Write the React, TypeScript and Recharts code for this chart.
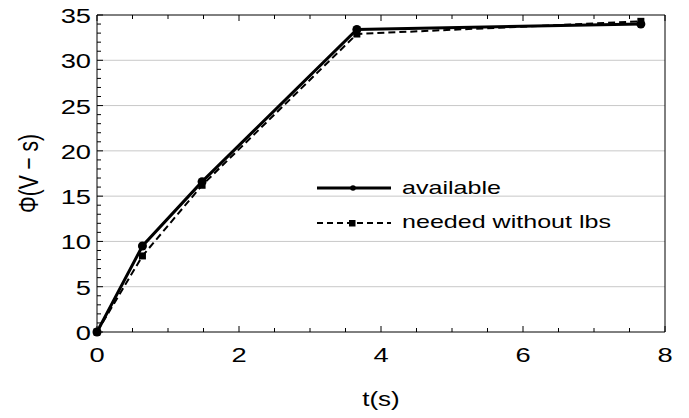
import React from "react";
import { ComposedChart, Line, XAxis, YAxis, ReferenceLine, Label } from "recharts";

const times = [0, 0.64, 1.48, 3.66, 7.66];
const available = [0, 9.5, 16.6, 33.4, 34.0];
const needed = [0, 8.4, 16.2, 32.9, 34.3];
const seriesNames = ["available", "needed without lbs"];
const xTicks = [0, 0.5, 1, 1.5, 2, 2.5, 3, 3.5, 4, 4.5, 5, 5.5, 6, 6.5, 7, 7.5, 8];
const yTicks = [
  0, 1, 2, 3, 4, 5, 6, 7, 8, 9, 10, 11, 12, 13, 14, 15, 16, 17, 18, 19, 20, 21, 22, 23, 24, 25, 26, 27, 28,
  29, 30, 31, 32, 33, 34, 35,
];
const gridValues = [5, 10, 15, 20, 25, 30];

const data = times.map((t, i) => ({ t, available: available[i], needed: needed[i] }));

const font = "'Liberation Sans', Arial, sans-serif";

const BottomTick = ({ x, y, payload }: any) => {
  const major = payload.value % 2 === 0;
  return (
    <g>
      <line x1={x} x2={x} y1={y} y2={y - (major ? 6 : 4)} stroke="#000" />
      {major && (
        <text transform={`translate(${x},${y + 30}) scale(1.3,1)`} textAnchor="middle" fontSize={21} fontFamily={font} fill="#000">
          {payload.value}
        </text>
      )}
    </g>
  );
};

const TopTick = ({ x, y, payload }: any) => {
  const major = payload.value % 2 === 0;
  return <line x1={x} x2={x} y1={y} y2={y + (major ? 6 : 4)} stroke="#000" />;
};

const LeftTick = ({ x, y, payload }: any) => {
  const major = payload.value % 5 === 0;
  return (
    <g>
      <line x1={x} x2={x + (major ? 6 : 4)} y1={y} y2={y} stroke="#000" />
      {major && (
        <text transform={`translate(${x - 6},${y + 8}) scale(1.3,1)`} textAnchor="end" fontSize={21} fontFamily={font} fill="#000">
          {payload.value}
        </text>
      )}
    </g>
  );
};

const RightTick = ({ x, y, payload }: any) => {
  const major = payload.value % 5 === 0;
  return <line x1={x} x2={x - (major ? 6 : 4)} y1={y} y2={y} stroke="#000" />;
};

const XLabel = ({ viewBox }: any) => (
  <text
    transform={`translate(${viewBox.x + viewBox.width / 2},${viewBox.y + 74}) scale(1.3,1)`}
    textAnchor="middle"
    fontSize={20}
    fontFamily={font}
    fill="#000"
  >
    t(s)
  </text>
);

const YLabel = ({ viewBox }: any) => (
  <text
    transform={`translate(${viewBox.x + 38},${viewBox.y + viewBox.height / 2}) rotate(-90) scale(1,1.3)`}
    textAnchor="middle"
    fontSize={21}
    fontFamily={font}
    fill="#000"
  >
    Φ(V − s)
  </text>
);

const SquareDot = ({ cx, cy, index }: any) => (
  <rect key={`sq-${index}`} x={cx - 3.5} y={cy - 3.5} width={7} height={7} fill="#000" />
);

const CircleDot = ({ cx, cy, index }: any) => <circle key={`c-${index}`} cx={cx} cy={cy} r={4.5} fill="#000" />;

// legend drawn on top of the plot, mathematica style
const LegendOverlay = () => (
  <svg width={689} height={418} style={{ position: "absolute", left: 0, top: 0, pointerEvents: "none" }}>
    <line x1={317} x2={391} y1={188} y2={188} stroke="#000" strokeWidth={3} />
    <circle cx={353} cy={188} r={2.8} fill="#000" />
    <text transform="translate(402,194) scale(1.32,1)" fontSize={19} fontFamily={font} fill="#000">
      {seriesNames[0]}
    </text>
    <line x1={317} x2={391} y1={223} y2={223} stroke="#000" strokeWidth={2} strokeDasharray="6 4" />
    <rect x={349} y={220} width={6.5} height={6.5} fill="#000" />
    <text transform="translate(402,228) scale(1.32,1)" fontSize={19} fontFamily={font} fill="#000">
      {seriesNames[1]}
    </text>
  </svg>
);

export default function App() {
  return (
    <div style={{ position: "absolute", left: 0, top: 0, width: 689, height: 418, background: "#fff" }}>
      <ComposedChart width={689} height={418} data={data} margin={{ top: 0, right: 0, bottom: 0, left: 0 }}>
        <XAxis
          dataKey="t"
          type="number"
          domain={[0, 8]}
          ticks={xTicks}
          interval={0}
          height={86}
          tickSize={0}
          tickMargin={0}
          tickLine={false}
          tick={BottomTick}
          axisLine={{ stroke: "#000" }}
        >
          <Label content={XLabel} />
        </XAxis>
        <XAxis
          xAxisId="top"
          orientation="top"
          dataKey="t"
          type="number"
          domain={[0, 8]}
          ticks={xTicks}
          interval={0}
          height={15}
          tickSize={0}
          tickMargin={0}
          tickLine={false}
          tick={TopTick}
          axisLine={{ stroke: "#000" }}
        />
        <YAxis
          type="number"
          domain={[0, 35]}
          ticks={yTicks}
          interval={0}
          width={97}
          tickSize={0}
          tickMargin={0}
          tickLine={false}
          tick={LeftTick}
          axisLine={{ stroke: "#000" }}
        >
          <Label content={YLabel} />
        </YAxis>
        <YAxis
          yAxisId="right"
          orientation="right"
          type="number"
          domain={[0, 35]}
          ticks={yTicks}
          interval={0}
          width={24}
          tickSize={0}
          tickMargin={0}
          tickLine={false}
          tick={RightTick}
          axisLine={{ stroke: "#000" }}
        />
        {gridValues.map((v) => (
          <ReferenceLine key={v} y={v} stroke="#c8c8c8" strokeWidth={1} />
        ))}
        <Line
          dataKey="needed"
          stroke="#000"
          strokeWidth={2}
          strokeDasharray="7 4"
          dot={SquareDot}
          isAnimationActive={false}
        />
        <Line dataKey="available" stroke="#000" strokeWidth={3} dot={CircleDot} isAnimationActive={false} />
      </ComposedChart>
      <LegendOverlay />
    </div>
  );
}
